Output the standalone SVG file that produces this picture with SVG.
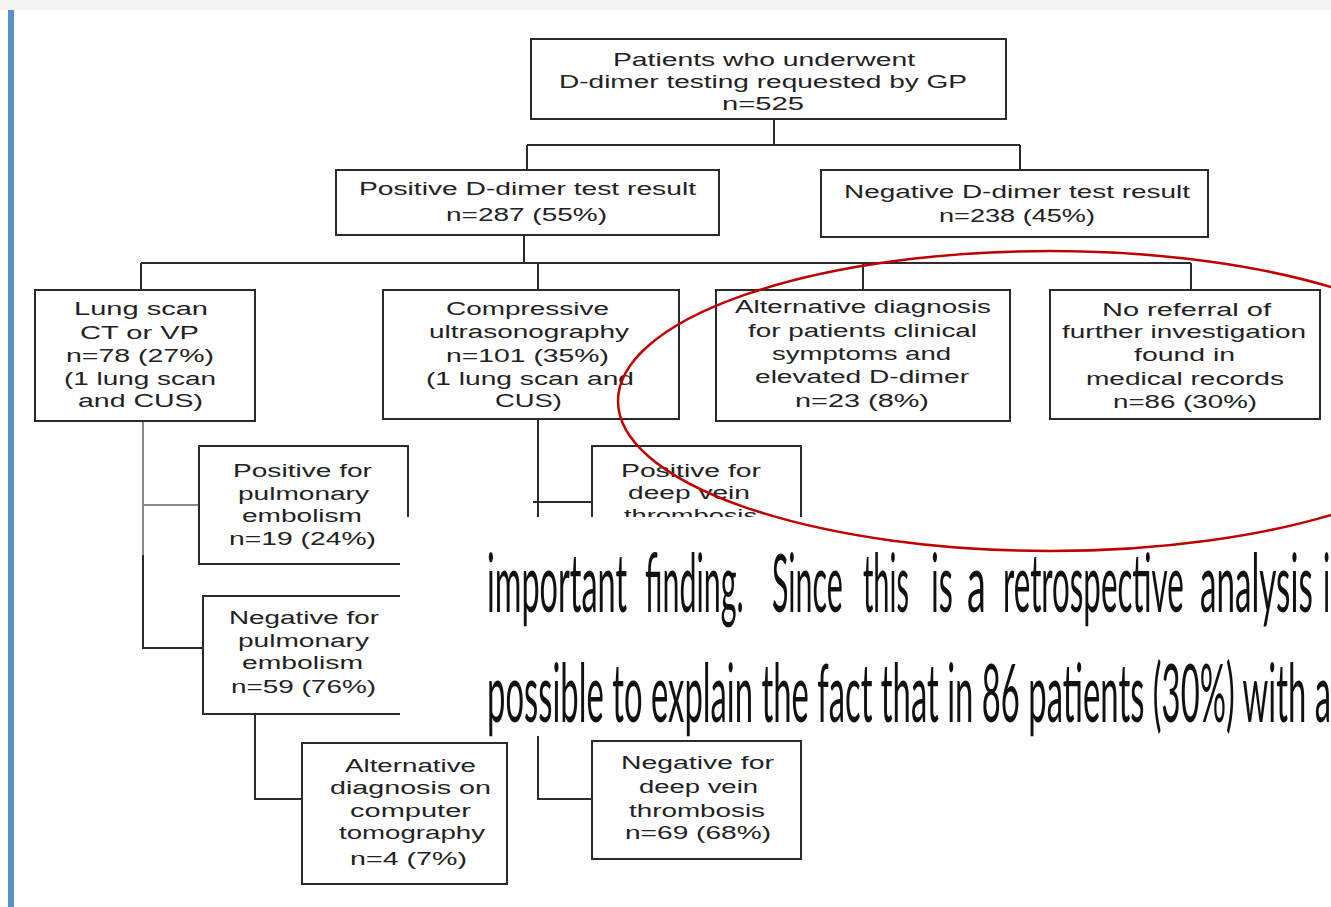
<svg xmlns="http://www.w3.org/2000/svg" width="1331" height="907" viewBox="0 0 1331 907">
<style>
.box{fill:#fff;stroke:#2b2b2b;stroke-width:2}
.ln{fill:none;stroke:#2b2b2b;stroke-width:2}
.lg{fill:none;stroke:#8a8a8a;stroke-width:2}
.t{font-family:"Liberation Sans",Arial,sans-serif;font-size:18px;fill:#222}
.ov{font-family:Lato,"Liberation Sans",sans-serif;font-size:82px;fill:#111}
</style>
<rect x="0" y="0" width="1331" height="907" fill="#fff"/>
<rect x="0" y="0" width="1331" height="10" fill="#f3f3f3"/>
<rect x="8" y="10" width="6" height="897" fill="#5b8fc7"/>

<g id="connectors">
<path class="ln" d="M774 119V145M527 145H1020M527 145V170M1020 145V170"/>
<path class="ln" d="M524 235V263M141 263H1191M141 263V290M538 263V290M863 263V290M1191 263V290"/>
<path class="lg" d="M143 422V555M143 505H199"/>
<path class="ln" d="M143 555V648H203"/>
<path class="ln" d="M255 714V799H302"/>
<path class="ln" d="M538 419V799H592M533 502H592"/>
</g>

<g id="n-top"><rect class="box" x="531" y="39" width="475" height="80"/>
<text class="t" x="613" y="66" textLength="302" lengthAdjust="spacingAndGlyphs">Patients who underwent</text>
<text class="t" x="559" y="88" textLength="408" lengthAdjust="spacingAndGlyphs">D-dimer testing requested by GP</text>
<text class="t" x="722" y="110" textLength="82" lengthAdjust="spacingAndGlyphs">n=525</text></g>

<g id="n-pos"><rect class="box" x="336" y="170" width="383" height="65"/>
<text class="t" x="359" y="195" textLength="337" lengthAdjust="spacingAndGlyphs">Positive D-dimer test result</text>
<text class="t" x="446" y="221" textLength="161" lengthAdjust="spacingAndGlyphs">n=287 (55%)</text></g>

<g id="n-neg"><rect class="box" x="821" y="170" width="387" height="67"/>
<text class="t" x="844" y="198" textLength="346" lengthAdjust="spacingAndGlyphs">Negative D-dimer test result</text>
<text class="t" x="939" y="222" textLength="156" lengthAdjust="spacingAndGlyphs">n=238 (45%)</text></g>

<g id="n-lung"><rect class="box" x="35" y="290" width="220" height="131"/>
<text class="t" x="74" y="315" textLength="134" lengthAdjust="spacingAndGlyphs">Lung scan</text>
<text class="t" x="80" y="339" textLength="119" lengthAdjust="spacingAndGlyphs">CT or VP</text>
<text class="t" x="66" y="362" textLength="148" lengthAdjust="spacingAndGlyphs">n=78 (27%)</text>
<text class="t" x="64" y="385" textLength="152" lengthAdjust="spacingAndGlyphs">(1 lung scan</text>
<text class="t" x="78" y="407" textLength="125" lengthAdjust="spacingAndGlyphs">and CUS)</text></g>

<g id="n-cus"><rect class="box" x="383" y="290" width="296" height="129"/>
<text class="t" x="446" y="315" textLength="163" lengthAdjust="spacingAndGlyphs">Compressive</text>
<text class="t" x="429" y="338" textLength="200" lengthAdjust="spacingAndGlyphs">ultrasonography</text>
<text class="t" x="446" y="362" textLength="163" lengthAdjust="spacingAndGlyphs">n=101 (35%)</text>
<text class="t" x="426" y="385" textLength="208" lengthAdjust="spacingAndGlyphs">(1 lung scan and</text>
<text class="t" x="495" y="407" textLength="67" lengthAdjust="spacingAndGlyphs">CUS)</text></g>

<g id="n-alt"><rect class="box" x="716" y="290" width="294" height="131"/>
<text class="t" x="735" y="313" textLength="256" lengthAdjust="spacingAndGlyphs">Alternative diagnosis</text>
<text class="t" x="748" y="337" textLength="229" lengthAdjust="spacingAndGlyphs">for patients clinical</text>
<text class="t" x="772" y="360" textLength="179" lengthAdjust="spacingAndGlyphs">symptoms and</text>
<text class="t" x="755" y="383" textLength="214" lengthAdjust="spacingAndGlyphs">elevated D-dimer</text>
<text class="t" x="795" y="407" textLength="134" lengthAdjust="spacingAndGlyphs">n=23 (8%)</text></g>

<g id="n-noref"><rect class="box" x="1050" y="290" width="270" height="129"/>
<text class="t" x="1102" y="316" textLength="169" lengthAdjust="spacingAndGlyphs">No referral of</text>
<text class="t" x="1062" y="338" textLength="244" lengthAdjust="spacingAndGlyphs">further investigation</text>
<text class="t" x="1134" y="361" textLength="101" lengthAdjust="spacingAndGlyphs">found in</text>
<text class="t" x="1086" y="385" textLength="198" lengthAdjust="spacingAndGlyphs">medical records</text>
<text class="t" x="1113" y="408" textLength="144" lengthAdjust="spacingAndGlyphs">n=86 (30%)</text></g>

<g id="n-pospe"><rect class="box" x="199" y="446" width="209" height="118"/>
<text class="t" x="233" y="477" textLength="139" lengthAdjust="spacingAndGlyphs">Positive for</text>
<text class="t" x="238" y="500" textLength="131" lengthAdjust="spacingAndGlyphs">pulmonary</text>
<text class="t" x="242" y="522" textLength="120" lengthAdjust="spacingAndGlyphs">embolism</text>
<text class="t" x="229" y="545" textLength="147" lengthAdjust="spacingAndGlyphs">n=19 (24%)</text></g>

<g id="n-negpe"><rect class="box" x="203" y="596" width="208" height="118"/>
<text class="t" x="229" y="624" textLength="150" lengthAdjust="spacingAndGlyphs">Negative for</text>
<text class="t" x="238" y="647" textLength="131" lengthAdjust="spacingAndGlyphs">pulmonary</text>
<text class="t" x="242" y="669" textLength="121" lengthAdjust="spacingAndGlyphs">embolism</text>
<text class="t" x="231" y="693" textLength="145" lengthAdjust="spacingAndGlyphs">n=59 (76%)</text></g>

<g id="n-altct"><rect class="box" x="302" y="743" width="205" height="141"/>
<text class="t" x="345" y="772" textLength="131" lengthAdjust="spacingAndGlyphs">Alternative</text>
<text class="t" x="330" y="794" textLength="161" lengthAdjust="spacingAndGlyphs">diagnosis on</text>
<text class="t" x="350" y="817" textLength="121" lengthAdjust="spacingAndGlyphs">computer</text>
<text class="t" x="339" y="839" textLength="146" lengthAdjust="spacingAndGlyphs">tomography</text>
<text class="t" x="350" y="865" textLength="117" lengthAdjust="spacingAndGlyphs">n=4 (7%)</text></g>

<g id="n-posdvt"><rect class="box" x="592" y="446" width="209" height="118"/>
<text class="t" x="621" y="477" textLength="140" lengthAdjust="spacingAndGlyphs">Positive for</text>
<text class="t" x="628" y="499" textLength="122" lengthAdjust="spacingAndGlyphs">deep vein</text>
<text class="t" x="624" y="522" textLength="133" lengthAdjust="spacingAndGlyphs">thrombosis</text></g>

<g id="n-negdvt"><rect class="box" x="592" y="741" width="209" height="118"/>
<text class="t" x="621" y="769" textLength="153" lengthAdjust="spacingAndGlyphs">Negative for</text>
<text class="t" x="639" y="793" textLength="119" lengthAdjust="spacingAndGlyphs">deep vein</text>
<text class="t" x="629" y="817" textLength="136" lengthAdjust="spacingAndGlyphs">thrombosis</text>
<text class="t" x="625" y="839" textLength="146" lengthAdjust="spacingAndGlyphs">n=69 (68%)</text></g>

<g id="overlay">
<rect x="400" y="517" width="931" height="219" fill="#fff"/>
<text class="ov" transform="translate(487 612) scale(0.4 1)" textLength="350" lengthAdjust="spacingAndGlyphs">important</text>
<text class="ov" transform="translate(645 612) scale(0.4 1)" textLength="247" lengthAdjust="spacingAndGlyphs">finding.</text>
<text class="ov" transform="translate(772 612) scale(0.4 1)" textLength="177" lengthAdjust="spacingAndGlyphs">Since</text>
<text class="ov" transform="translate(863 612) scale(0.4 1)" textLength="115" lengthAdjust="spacingAndGlyphs">this</text>
<text class="ov" transform="translate(931 612) scale(0.4 1)" textLength="55" lengthAdjust="spacingAndGlyphs">is</text>
<text class="ov" transform="translate(967 612) scale(0.4 1)" textLength="47" lengthAdjust="spacingAndGlyphs">a</text>
<text class="ov" transform="translate(1003 612) scale(0.4 1)" textLength="452" lengthAdjust="spacingAndGlyphs">retrospective</text>
<text class="ov" transform="translate(1200 612) scale(0.4 1)" textLength="282" lengthAdjust="spacingAndGlyphs">analysis</text>
<text class="ov" transform="translate(1323 612) scale(0.4 1)" textLength="18" lengthAdjust="spacingAndGlyphs">i</text>
<text class="ov" transform="translate(487 722) scale(0.4 1)" textLength="2110" lengthAdjust="spacingAndGlyphs">possible to explain the fact that in 86 patients (30%) with a</text>
</g>

<ellipse cx="1050" cy="401" rx="432" ry="150" fill="none" stroke="#c00000" stroke-width="2.5"/>
</svg>
